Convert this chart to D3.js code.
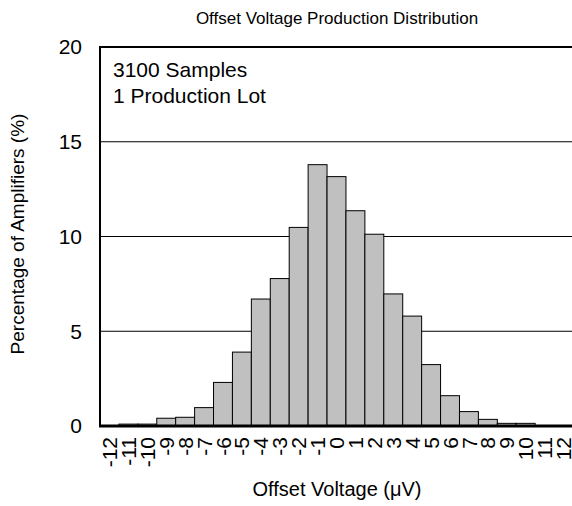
<!DOCTYPE html>
<html>
<head>
<meta charset="utf-8">
<script src="https://cdn.jsdelivr.net/npm/d3@7"></script>
<style>
  body { margin: 0; background: #fff; }
  text { font-family: "Liberation Sans", Arial, sans-serif; fill: #000; }
</style>
</head>
<body>
<svg id="chart" width="572" height="506"></svg>
<script>
// offset voltage bins (uV) and share of amplifiers (%)
var bins = d3.range(-12, 13);
var percent = [0, 0.1, 0.1, 0.41, 0.46, 0.97, 2.3, 3.9, 6.7, 7.78, 10.48, 13.79,
               13.16, 11.36, 10.12, 6.97, 5.8, 3.24, 1.6, 0.76, 0.35, 0.14, 0.14, 0, 0];
var yTicks = [0, 5, 10, 15, 20];
var gridTicks = [5, 10, 15];
var notes = ["3100 Samples", "1 Production Lot"];

var svg = d3.select("#chart");
var plotL = 100, plotR = 573, plotT = 47, plotB = 426;

var x = d3.scaleBand()
    .domain(bins)
    .range([plotL, plotR])
    .padding(0);

var y = d3.scaleLinear()
    .domain([0, 20])
    .range([plotB, plotT]);

// grid lines
svg.selectAll(".grid")
    .data(gridTicks)
  .enter().append("line")
    .attr("class", "grid")
    .attr("x1", plotL)
    .attr("x2", plotR)
    .attr("y1", function(d) { return y(d); })
    .attr("y2", function(d) { return y(d); })
    .attr("stroke", "#000")
    .attr("stroke-width", 1);

// bars
svg.selectAll(".bar")
    .data(bins)
  .enter().append("rect")
    .attr("class", "bar")
    .attr("x", function(d) { return x(d); })
    .attr("width", x.bandwidth())
    .attr("y", function(d, i) { return y(percent[i]); })
    .attr("height", function(d, i) { return plotB - y(percent[i]); })
    .attr("fill", "#c0c0c0")
    .attr("stroke", "#000")
    .attr("stroke-width", 1);

// frame
svg.append("line")
    .attr("x1", plotL).attr("x2", plotR)
    .attr("y1", plotT).attr("y2", plotT)
    .attr("stroke", "#000").attr("stroke-width", 2);
svg.append("line")
    .attr("x1", plotL).attr("x2", plotL)
    .attr("y1", plotT - 1).attr("y2", plotB)
    .attr("stroke", "#000").attr("stroke-width", 2);
svg.append("line")
    .attr("x1", plotL - 1).attr("x2", plotR)
    .attr("y1", plotB).attr("y2", plotB)
    .attr("stroke", "#000").attr("stroke-width", 3);

// y tick labels
svg.selectAll(".ytick")
    .data(yTicks)
  .enter().append("text")
    .attr("class", "ytick")
    .attr("x", 82)
    .attr("y", function(d) { return y(d); })
    .attr("dy", "0.35em")
    .attr("text-anchor", "end")
    .style("font-size", "21px")
    .text(function(d) { return d; });

// x tick labels, rotated
svg.selectAll(".xtick")
    .data(bins)
  .enter().append("text")
    .attr("class", "xtick")
    .attr("transform", function(d) {
      return "translate(" + (x(d) + x.bandwidth() / 2) + "," + (plotB + 11) + ")rotate(-90)";
    })
    .attr("dy", "0.36em")
    .attr("text-anchor", "end")
    .style("font-size", "21px")
    .text(function(d) { return d; });

// notes
svg.selectAll(".note")
    .data(notes)
  .enter().append("text")
    .attr("class", "note")
    .attr("x", 113)
    .attr("y", function(d, i) { return 77 + i * 25.5; })
    .style("font-size", "21px")
    .text(function(d) { return d; });

// titles
svg.append("text")
    .attr("x", 337).attr("y", 24)
    .attr("text-anchor", "middle")
    .style("font-size", "17px")
    .text("Offset Voltage Production Distribution");

svg.append("text")
    .attr("x", 337).attr("y", 496)
    .attr("text-anchor", "middle")
    .style("font-size", "20px")
    .text("Offset Voltage (\u03bcV)");

svg.append("text")
    .attr("transform", "translate(24,234)rotate(-90)")
    .attr("text-anchor", "middle")
    .style("font-size", "19px")
    .text("Percentage of Amplifiers (%)");
</script>
</body>
</html>
